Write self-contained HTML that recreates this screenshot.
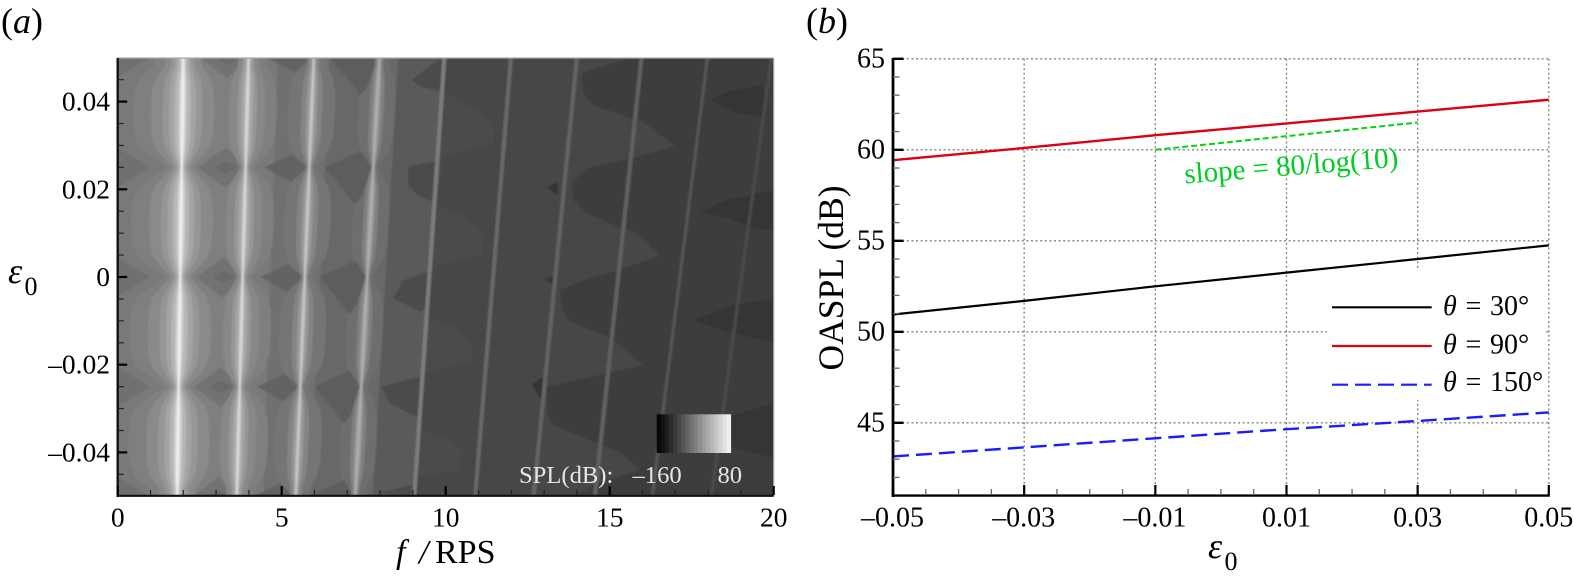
<!DOCTYPE html>
<html lang="en">
<head>
<meta charset="utf-8">
<title>SPL contour and OASPL chart</title>
<style>
html,body{margin:0;padding:0;background:#fff;}
svg{display:block;font-family:"Liberation Serif","DejaVu Serif",serif;}
text{fill:#000;}
</style>
</head>
<body>
<svg id="figure" width="1574" height="579" viewBox="0 0 1574 579" xmlns="http://www.w3.org/2000/svg">
  <defs>
    <clipPath id="plotClip"><rect x="117.7" y="58" width="656" height="438"/></clipPath>
    <filter id="soft" x="-2%" y="-2%" width="104%" height="104%"><feGaussianBlur stdDeviation="0.7"/></filter>
  </defs>
  <rect width="1574" height="579" fill="#fff"/>
  <text x="1" y="33" font-size="36">(<tspan font-style="italic">a</tspan>)</text>
  <text x="806" y="33" font-size="36">(<tspan font-style="italic">b</tspan>)</text>
  <g id="panelA"></g>
  <g id="panelB"></g>
  <text y="563" font-size="34"><tspan x="396" font-style="italic">f</tspan><tspan x="419" font-size="34" font-style="italic">/</tspan><tspan x="435">RPS</tspan></text>
  <text y="283" font-size="36"><tspan x="8" font-style="italic">ε</tspan><tspan x="24.5" y="295" font-size="26">0</tspan></text>
  <text y="558" font-size="36"><tspan x="1208" font-style="italic">ε</tspan><tspan x="1224.5" y="570" font-size="26">0</tspan></text>
  <text font-size="35.5" text-anchor="middle" transform="translate(843 278) rotate(-90)">OASPL (dB)</text>
</svg>
<script>
// ---------- Panel (a) data ----------
const fTicks = [0, 5, 10, 15, 20];
const fMinorTicks = [1,2,3,4,6,7,8,9,11,12,13,14,16,17,18,19];
const epsATicks = [0.04, 0.02, 0, -0.02, -0.04];
const epsATickLabels = ['0.04', '0.02', '0', '–0.02', '–0.04'];
const epsAMinorTicks = [0.045,0.035,0.03,0.025,0.015,0.01,0.005,-0.005,-0.01,-0.015,-0.025,-0.03,-0.035,-0.045];
const pinchEps = [-0.05, -0.025, 0, 0.025, 0.05];
const ridgeTopF = [2.0, 3.99, 5.98, 7.98, 9.96, 11.99, 14.0, 15.97, 17.98, 19.93];
const ridgeBottomF = [1.81, 3.63, 5.43, 7.24, 9.04, 10.9, 12.68, 14.55, 16.3, 18.1];
const lobeDist = [0, 0.002, 0.0045, 0.0075, 0.0125];
const lobeFrac = [0.3, 0.55, 0.85, 0.97, 1];
const edgeLobeFloor = 0.58;
const ridgeBandWidths = [
  [1.52, 0.97, 0.61, 0.41, 0.25, 0.12, 0.05],
  [0.91, 0.55, 0.30, 0.18, 0.08, 0.035],
  [0.72, 0.32, 0.17, 0.08, 0.035],
  [0.56, 0.22, 0.11, 0.045]
];
const ridgeBandLevels = [
  [127, 138, 150, 164, 182, 208, 238],
  [127, 136, 150, 166, 192, 216],
  [116, 132, 150, 172, 200],
  [110, 128, 150, 174]
];
const thinRidgeLevels = [124, 104, 100, 96, 84, 74];
const baseHarmonicEnd = [2.45, 3.25, 4.3, 5.0];
const baseLevels = [121, 111, 103, 90];
const fieldLevel = 70;
const cornerPatch = [[0, 0.0045], [0.51, 0], [0, -0.0045]];
const cornerLevel = 112;
const diamondOuter = [[1.27, 0], [1.69, 0.0045], [2.0, 0], [1.69, -0.0047]];
const diamondInner = [[1.51, 0], [1.69, 0.0015], [1.9, 0], [1.69, -0.0015]];
const diamondMid = [[2.29, 0], [2.73, 0.003], [2.97, 0], [2.73, -0.0034]];
const diamondRight = [[3.24, 0], [3.8, 0.0037], [3.98, 0], [3.85, -0.0065], [3.75, -0.0085], [3.55, -0.005]];
const diamondLevels = [114, 106, 100, 93];
const tongues = [
  [[9.88,0.0425],[10.59,0.0396],[11.5,0.0349],[11.43,0.0301],[9.74,0.0271]],
  [[9.65,0.0164],[10.44,0.0146],[11.15,0.0103],[11.1,0.005],[9.52,0.0023]],
  [[9.42,-0.0094],[10.33,-0.0113],[10.84,-0.0159],[10.79,-0.0197],[9.31,-0.0216]],
  [[9.19,-0.0349],[10.13,-0.0372],[10.54,-0.0402],[10.38,-0.044],[9.09,-0.0455]]
];
const tongueLevel = 76;
const darkBoundary = [[15.62,0.05],[14.15,0.0465],[14.2,0.0419],[14.5,0.0392],[15.67,0.036],[16.02,0.0354],[16.99,0.0299],[15.82,0.0274],[14.35,0.0248],[13.84,0.0217],[13.89,0.0176],[14.3,0.0145],[15.21,0.0115],[15.82,0.01],[16.53,0.005],[15.31,0.0016],[14.19,-0.0007],[13.48,-0.003],[13.54,-0.0075],[13.79,-0.0102],[14.91,-0.0136],[15.31,-0.0155],[16.02,-0.0201],[14.7,-0.0223],[13.08,-0.025],[13.08,-0.0311],[13.28,-0.0338],[14.6,-0.0379],[15.37,-0.0402],[15.92,-0.044],[14.6,-0.047],[13.88,-0.05],[20,-0.05],[20,0.05]];
const darkLevel = 61;
const darkestPatches = [
  [[18.05,0.0404],[18.66,0.0423],[19.64,0.0438],[19.74,0.0419],[19.64,0.0366],[18.77,0.0377]],
  [[17.75,0.0149],[18.57,0.0176],[20,0.0198],[20,0.0106],[19.43,0.0111],[18.57,0.0134]],
  [[17.54,-0.0098],[18.76,-0.0064],[20,-0.0049],[20,-0.015],[18.97,-0.0132],[18.57,-0.0125]],
  [[18.57,-0.0319],[20,-0.0288],[20,-0.0413],[18.67,-0.0387]],
  [[13.06,0.0205],[13.42,0.0216],[13.42,0.0186]],
  [[12.62,-0.0245],[13.0,-0.0225],[12.98,-0.029]],
  [[13.0,-0.0005],[13.35,0.0003],[13.35,-0.002]]
];
const darkestLevel = 52;
const shoulderPatches = [
  [[8.96,0.0449],[9.61,0.0487],[9.95,0.05],[9.87,0.0423],[9.24,0.0434]],
  [[8.86,0.0252],[9.92,0.0267],[9.73,0.0169],[9.22,0.0183],[8.86,0.0206]],
  [[8.4,-0.0049],[8.71,-0.0007],[9.46,0.0012],[9.37,-0.0071],[9.22,-0.0079]],
  [[8.05,-0.025],[9.22,-0.0227],[9.17,-0.0322],[8.3,-0.0288]],
  [[7.9,-0.0493],[9.0,-0.0474],[8.96,-0.05]]
];
const shoulderLevel = 75;
const colorbarLevels = [8,18,30,44,58,72,86,100,114,128,142,156,170,184,198,212,226,238];
const colorbarTicks = ['–160', '80'];

// ---------- Panel (b) data ----------
const epsCategories = [-0.05, -0.03, -0.01, 0.01, 0.03, 0.05];
const epsTickLabels = ['–0.05', '–0.03', '–0.01', '0.01', '0.03', '0.05'];
const epsMinorTicks = [-0.045,-0.04,-0.035,-0.025,-0.02,-0.015,-0.005,0,0.005,0.015,0.02,0.025,0.035,0.04,0.045];
const oasplTicks = [45, 50, 55, 60, 65];
const oasplMinorTicks = [42,43,44,46,47,48,49,51,52,53,54,56,57,58,59,61,62,63,64];
const theta30 = [50.95, 51.7, 52.5, 53.25, 54.0, 54.75];
const theta90 = [59.43, 60.1, 60.8, 61.45, 62.1, 62.75];
const theta150 = [43.15, 43.65, 44.15, 44.65, 45.1, 45.57];
const slopeEps = [-0.01, 0.03];
const slopeValues = [60, 61.5];

// ---------- Helpers ----------
const NS = 'http://www.w3.org/2000/svg';
function mk(tag, attrs, parent, txt) {
  const e = document.createElementNS(NS, tag);
  for (const k in attrs) e.setAttribute(k, attrs[k]);
  if (txt !== undefined) e.textContent = txt;
  parent.appendChild(e);
  return e;
}
const gray = v => 'rgb(' + v + ',' + v + ',' + v + ')';

// ---------- Panel (a) scales ----------
const xA = f => 117.7 + (f / 20) * 656;
const yA = e => 277 - e * 4385;
const warpF = (h, e) => h * (1.9 + 1.8 * e);
const ptsF = arr => arr.map(p => xA(p[0]).toFixed(2) + ',' + yA(p[1]).toFixed(2)).join(' ');
const ridgeAt = (i, e) => ridgeBottomF[i] + (ridgeTopF[i] - ridgeBottomF[i]) * (e + 0.05) / 0.1;

function lobeFraction(e) {
  let d = Infinity;
  for (const p of pinchEps) d = Math.min(d, Math.abs(e - p));
  let frac = 1;
  for (let i = 1; i < lobeDist.length; i++) {
    if (d <= lobeDist[i]) {
      const t = (d - lobeDist[i - 1]) / (lobeDist[i] - lobeDist[i - 1]);
      frac = lobeFrac[i - 1] + t * (lobeFrac[i] - lobeFrac[i - 1]);
      break;
    }
  }
  if (Math.abs(e) > 0.04) frac = Math.max(frac, edgeLobeFloor);
  return frac;
}
function lobeKnots() {
  const out = [];
  for (let i = 0; i < pinchEps.length - 1; i++) {
    const a = pinchEps[i], b = pinchEps[i + 1];
    for (let j = 0; j < lobeDist.length; j++) out.push(a + lobeDist[j]);
    for (let j = lobeDist.length - 2; j > 0; j--) out.push(b - lobeDist[j]);
  }
  out.push(pinchEps[pinchEps.length - 1]);
  return out;
}
function bandPoints(i, w) {
  const knots = lobeKnots();
  const left = knots.map(e => [ridgeAt(i, e) - Math.max(w * lobeFraction(e), 0.025), e]);
  const right = knots.slice().reverse().map(e => [ridgeAt(i, e) + Math.max(w * lobeFraction(e), 0.025), e]);
  return ptsF(left.concat(right));
}
function warpPatch(patch, pinch) {
  return ptsF(patch.map(p => [warpF(p[0], pinch + p[1]), pinch + p[1]]));
}

// ---------- Panel (a) draw ----------
const pa = document.getElementById('panelA');
const clipG = mk('g', {'clip-path': 'url(#plotClip)'}, pa);


const field = mk('g', {filter: 'url(#soft)'}, clipG);



const fieldRect = mk('rect', {x: xA(0) - 3, y: yA(0.05) - 3, width: 670, height: 446, fill: gray(fieldLevel)}, field);



for (let i = baseHarmonicEnd.length - 1; i >= 0; i--) {
  const h = baseHarmonicEnd[i];
  const band = mk('polygon', {points: ptsF([[-1, 0.06], [warpF(h, 0.06), 0.06], [warpF(h, -0.06), -0.06], [-1, -0.06]]), fill: gray(baseLevels[i])}, field);
  
  
}
for (const p of pinchEps) {
  const corner = mk('polygon', {points: ptsF(cornerPatch.map(c => [c[0] * 1.9, p + c[1]])), fill: gray(cornerLevel)}, field);
  
  
}
for (let i = 0; i < ridgeBandWidths.length; i++) {
  const outer = mk('polygon', {points: bandPoints(i, ridgeBandWidths[i][0]), fill: gray(ridgeBandLevels[i][0])}, field);
  
  
}
[diamondOuter, diamondInner, diamondMid, diamondRight].forEach((shape, k) => {
  for (const p of pinchEps) {
    const d = mk('polygon', {points: warpPatch(shape, p), fill: gray(diamondLevels[k])}, field);
    
    
  }
});
for (let i = 0; i < ridgeBandWidths.length; i++) {
  for (let j = 1; j < ridgeBandWidths[i].length; j++) {
    const b = mk('polygon', {points: bandPoints(i, ridgeBandWidths[i][j]), fill: gray(ridgeBandLevels[i][j])}, field);
    
    
  }
}
const dk = mk('polygon', {points: ptsF(darkBoundary), fill: gray(darkLevel)}, field);


for (const t of tongues) {
  const e = mk('polygon', {points: ptsF(t), fill: gray(tongueLevel)}, field);
  
  
}
for (const t of shoulderPatches) {
  const e = mk('polygon', {points: ptsF(t), fill: gray(shoulderLevel)}, field);
  
  
}
for (const t of darkestPatches) {
  const e = mk('polygon', {points: ptsF(t), fill: gray(darkestLevel)}, field);
  
  
}
thinRidgeLevels.forEach((lv, k) => {
  const i = k + 4;
  const r = mk('line', {x1: xA(ridgeBottomF[i]), y1: yA(-0.05), x2: xA(ridgeTopF[i]), y2: yA(0.05), stroke: gray(lv), 'stroke-width': k < 4 ? 4.2 : 3.4}, field);
  
  
});

// colour bar
const cbX = 656.7, cbW = 74, cbY = 414.3, cbH = 38.7;
colorbarLevels.forEach((lv, i) => {
  const c = mk('rect', {x: cbX + i * cbW / colorbarLevels.length, y: cbY, width: cbW / colorbarLevels.length + 0.4, height: cbH, fill: gray(lv)}, pa);
  
  
});
const cbTitle = mk('text', {x: 519, y: 483, 'font-size': 24.6, style: 'fill:#e6e6e6'}, pa, 'SPL(dB):');


const cbMin = mk('text', {x: 632.5, y: 483, 'font-size': 24.6, style: 'fill:#e6e6e6'}, pa, colorbarTicks[0]);


const cbMax = mk('text', {x: 717.5, y: 483, 'font-size': 24.6, style: 'fill:#e6e6e6'}, pa, colorbarTicks[1]);



// frame & axes a
const frameTop = mk('line', {x1: xA(0), y1: 58, x2: xA(20), y2: 58, stroke: '#aaa', 'stroke-width': 1.2}, pa);


const frameRight = mk('line', {x1: xA(20), y1: 58, x2: xA(20), y2: 496, stroke: '#aaa', 'stroke-width': 1.2}, pa);


const axLeftA = mk('line', {x1: xA(0), y1: 58, x2: xA(0), y2: 497, stroke: '#111', 'stroke-width': 2.4}, pa);


const axBotA = mk('line', {x1: xA(0) - 1, y1: 495.8, x2: xA(20), y2: 495.8, stroke: '#111', 'stroke-width': 2.2}, pa);



fTicks.forEach(f => {
  const t = mk('line', {x1: xA(f), y1: 495, x2: xA(f), y2: 486, stroke: '#000', 'stroke-width': 2.2}, pa);
  
  
  const l = mk('text', {x: xA(f), y: 526.5, 'font-size': 27.5, 'text-anchor': 'middle'}, pa, String(f));
  
  
});
fMinorTicks.forEach(f => {
  const t = mk('line', {x1: xA(f), y1: 495, x2: xA(f), y2: 490, stroke: '#222', 'stroke-width': 1.2}, pa);
  
  
});
epsATicks.forEach((e, i) => {
  const t = mk('line', {x1: xA(0), y1: yA(e), x2: xA(0) + 9.5, y2: yA(e), stroke: '#000', 'stroke-width': 2.2}, pa);
  
  
  const l = mk('text', {x: 110, y: yA(e) + 9, 'font-size': 27.5, 'text-anchor': 'end'}, pa, epsATickLabels[i]);
  
  
});
epsAMinorTicks.forEach(e => {
  const t = mk('line', {x1: xA(0), y1: yA(e), x2: xA(0) + 6, y2: yA(e), stroke: '#222', 'stroke-width': 1.2}, pa);
  
  
});

// ---------- Panel (b) ----------
const pb = document.getElementById('panelB');
const xB = e => 893 + (e + 0.05) / 0.1 * 655.8;
const yB = v => 495.6 - (v - 41) * 18.2;
const gridStyle = {stroke: '#808080', 'stroke-width': 1.3, 'stroke-dasharray': '2 2.6', fill: 'none'};

epsCategories.forEach(e => {
  if (e === -0.05) return;
  const g = mk('line', Object.assign({x1: xB(e), y1: yB(65), x2: xB(e), y2: yB(41)}, gridStyle), pb);
  
  
});
oasplTicks.forEach(v => {
  const g = mk('line', Object.assign({x1: xB(-0.05), y1: yB(v), x2: xB(0.05), y2: yB(v)}, gridStyle), pb);
  
  
});
const legendBox = mk('rect', {x: 1327, y: 270, width: 218.5, height: 130, fill: '#fff'}, pb);



const path = (xs, ys) => xs.map((e, i) => (i ? 'L' : 'M') + xB(e).toFixed(2) + ' ' + yB(ys[i]).toFixed(2)).join(' ');
const s30 = mk('path', {d: path(epsCategories, theta30), stroke: '#000', 'stroke-width': 2.2, fill: 'none'}, pb);


const s90 = mk('path', {d: path(epsCategories, theta90), stroke: '#dc0014', 'stroke-width': 2.4, fill: 'none'}, pb);


const s150 = mk('path', {d: path(epsCategories, theta150), stroke: '#1c1cff', 'stroke-width': 2.4, fill: 'none', 'stroke-dasharray': '16 7'}, pb);


const sSlope = mk('path', {d: path(slopeEps, slopeValues), stroke: '#00d414', 'stroke-width': 2, fill: 'none', 'stroke-dasharray': '6 3'}, pb);


const slopeTxt = mk('text', {'font-size': 29, transform: 'translate(1185 183.5) rotate(-4.5)', style: 'fill:#00cc22'}, pb, 'slope = 80/log(10)');



// axes b
const axLeftB = mk('line', {x1: 893, y1: 58, x2: 893, y2: 497, stroke: '#000', 'stroke-width': 2.8}, pb);


const axBotB = mk('line', {x1: 892, y1: 495.6, x2: xB(0.05) + 1, y2: 495.6, stroke: '#000', 'stroke-width': 2.4}, pb);


epsCategories.forEach((e, i) => {
  const t = mk('line', {x1: xB(e), y1: 495, x2: xB(e), y2: 485, stroke: '#000', 'stroke-width': 2.2}, pb);
  
  
  const l = mk('text', {x: xB(e) - (epsTickLabels[i][0] === '–' ? 0.5 : 0), y: 526.7, 'font-size': 28, 'text-anchor': 'middle'}, pb, epsTickLabels[i]);
  
  
});
epsMinorTicks.forEach(e => {
  const t = mk('line', {x1: xB(e), y1: 495, x2: xB(e), y2: 489, stroke: '#666', 'stroke-width': 1.3}, pb);
  
  
});
oasplTicks.forEach(v => {
  const t = mk('line', {x1: 893, y1: yB(v), x2: 903.5, y2: yB(v), stroke: '#000', 'stroke-width': 2.4}, pb);
  
  
  const l = mk('text', {x: 885, y: yB(v) + 8.7, 'font-size': 28, 'text-anchor': 'end'}, pb, String(v));
  
  
});
oasplMinorTicks.forEach(v => {
  const t = mk('line', {x1: 893, y1: yB(v), x2: 899.5, y2: yB(v), stroke: '#666', 'stroke-width': 1.3}, pb);
  
  
});

// legend
function legendText(parent, y, val) {
  const t = mk('text', {y: y, 'font-size': 28}, parent);
  mk('tspan', {x: 1443, 'font-style': 'italic'}, t, 'θ');
  mk('tspan', {x: 1465.5}, t, '=');
  mk('tspan', {x: 1490}, t, val + '°');
  return t;
}
const leg30 = mk('line', {x1: 1332, y1: 307.3, x2: 1431.7, y2: 307.3, stroke: '#000', 'stroke-width': 2.2}, pb);


const legT30 = legendText(pb, 315, '30');


const leg90 = mk('line', {x1: 1332, y1: 346, x2: 1431.7, y2: 346, stroke: '#dc0014', 'stroke-width': 2.2}, pb);


const legT90 = legendText(pb, 353.3, '90');


const leg150 = mk('line', {x1: 1332, y1: 384.7, x2: 1431.7, y2: 384.7, stroke: '#1c1cff', 'stroke-width': 2.2, 'stroke-dasharray': '16 7'}, pb);


const legT150 = legendText(pb, 391, '150');


</script>
</body>
</html>
